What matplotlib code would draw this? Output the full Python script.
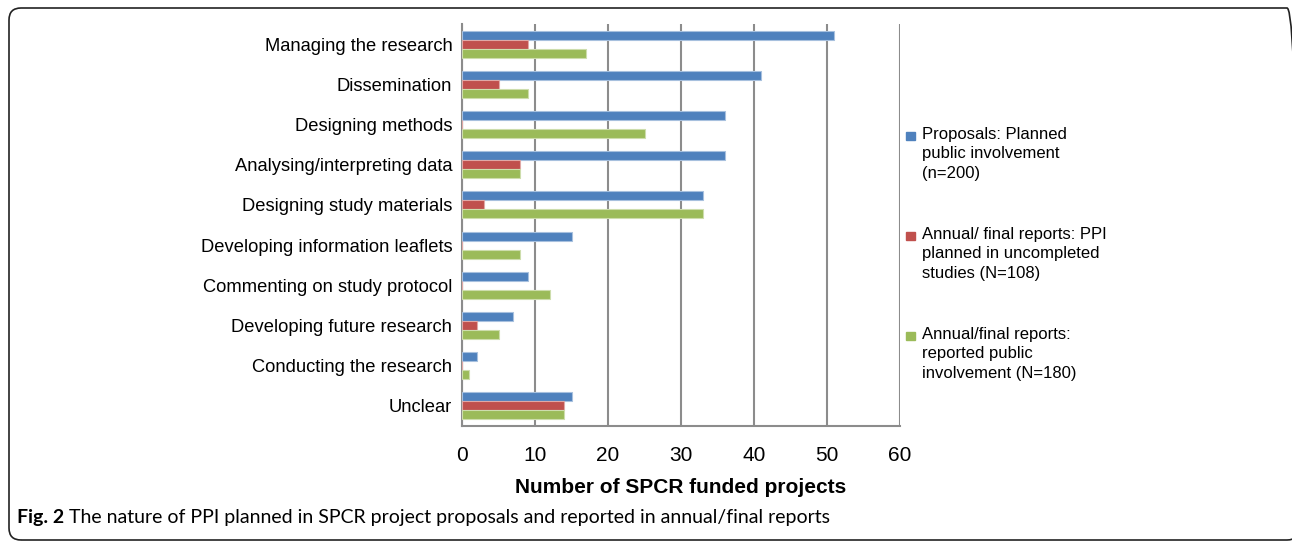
import numpy as np
import matplotlib
matplotlib.use('Agg')
import matplotlib.pyplot as plt
from matplotlib.patches import FancyBboxPatch, Rectangle

plt.rcParams['font.family'] = ['Liberation Sans', 'DejaVu Sans']

categories = ['Managing the research', 'Dissemination', 'Designing methods',
              'Analysing/interpreting data', 'Designing study materials',
              'Developing information leaflets', 'Commenting on study protocol',
              'Developing future research', 'Conducting the research', 'Unclear']
proposals = [51, 41, 36, 36, 33, 15, 9, 7, 2, 15]
uncompleted = [9, 5, 0, 8, 3, 0, 0, 2, 0, 14]
reported = [17, 9, 25, 8, 33, 8, 12, 5, 1, 14]
series_labels = ['Proposals: Planned\npublic involvement\n(n=200)',
                 'Annual/ final reports: PPI\nplanned in uncompleted\nstudies (N=108)',
                 'Annual/final reports:\nreported public\ninvolvement (N=180)']
colors = ['#4F81BD', '#C0504D', '#9BBB59']
edges = ['#A7C0DE', '#E0A8A6', '#CDDDAC']

W, H = 1292, 542
fig = plt.figure(figsize=(W / 100, H / 100), dpi=100)
ax = fig.add_axes([462 / W, 1 - 426 / H, 438 / W, 402 / H])

y = np.arange(len(categories))
h = 0.225
for k, vals in enumerate([proposals, uncompleted, reported]):
    ax.barh(y + (k - 1) * h, vals, height=h, color=colors[k],
            edgecolor=edges[k], linewidth=0.8, zorder=3)

ax.set_xlim(0, 60)
ax.set_ylim(len(categories) - 0.5, -0.5)
ax.set_xticks(range(0, 61, 10))
ax.set_yticks(y)
ax.set_yticklabels(categories)
ax.tick_params(axis='y', length=0, pad=7, labelsize=13.2)
ax.tick_params(axis='x', length=0, pad=14.5, labelsize=15)
ax.grid(axis='x', color='#8c8c8c', linewidth=1.5, zorder=1)
for s in ['top', 'right']:
    ax.spines[s].set_visible(False)
for s in ['left', 'bottom']:
    ax.spines[s].set_color('#8c8c8c')
    ax.spines[s].set_linewidth(1.5)
ax.set_xlabel('Number of SPCR funded projects', fontsize=15,
              fontweight='bold', labelpad=9.5)

# legend drawn by hand so the square sits on the first line of each label
legend_rows = [136, 236, 336]
for k, lab in enumerate(series_labels):
    yc = legend_rows[k]
    fig.add_artist(Rectangle((906 / W, 1 - (yc + 4) / H), 9 / W, 8 / H,
                             transform=fig.transFigure, color=colors[k]))
    fig.text(922 / W, 1 - (yc - 9) / H, lab, fontsize=12, va='top',
             ha='left', linespacing=1.37)

# caption under the chart
fig.canvas.draw()
t1 = fig.text(17 / W, 1 - 518 / H, 'Fig. 2', fontsize=14, fontweight='bold',
              family=['Lato', 'DejaVu Sans'], va='center')
bb = t1.get_window_extent(fig.canvas.get_renderer())
fig.text((bb.x1 + 5) / W, 1 - 518 / H,
         'The nature of PPI planned in SPCR project proposals and reported in annual/final reports',
         fontsize=14, family=['Lato', 'DejaVu Sans'], va='center')

# rounded frame round the figure
frame = FancyBboxPatch((9, H - 540), 1290, 532,
                       boxstyle='round,pad=0,rounding_size=12',
                       transform=None, fill=False, edgecolor='#222222',
                       linewidth=1.2)
fig.patches.append(frame)

fig.savefig('out.png', dpi=100)
